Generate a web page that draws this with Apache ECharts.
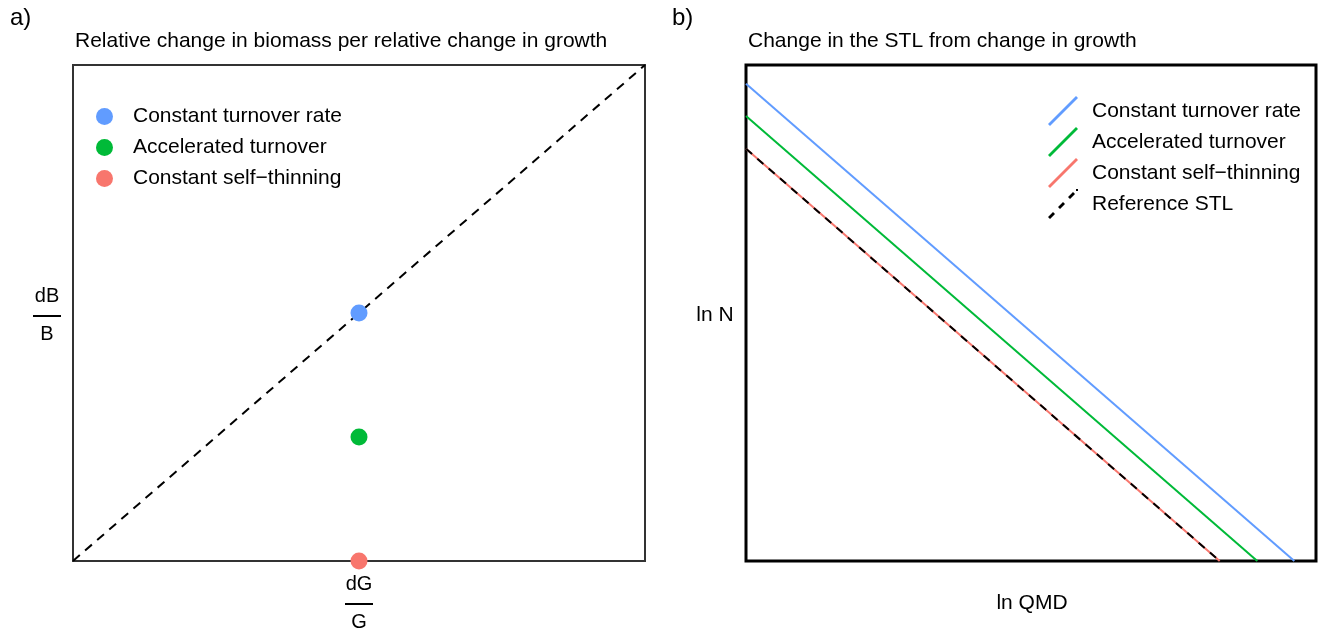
<!DOCTYPE html>
<html>
<head>
<meta charset="utf-8">
<script src="https://cdn.jsdelivr.net/npm/echarts@6/dist/echarts.min.js"></script>
<style>
  html, body { margin: 0; padding: 0; background: #fff; }
  #chart { width: 1319px; height: 628px; }
</style>
</head>
<body>
<div id="chart"></div>
<script>
// Panel a: relative change in biomass (dB/B) per relative change in growth (dG/G)
const scenarioNames = ['Constant turnover rate', 'Accelerated turnover', 'Constant self\u2212thinning'];
const scenarioColors = ['#619CFF', '#00BA38', '#F8766D'];
const growthChange = [1, 1, 1];          // dG/G for each scenario
const biomassChange = [1, 0.5, 0];       // dB/B for each scenario
const oneToOneLine = [[0, 0], [2, 2]];   // dB/B = dG/G reference

// Panel b: self-thinning lines (ln N against ln QMD), intercepts with slope -1
const stlNames = ['Constant turnover rate', 'Accelerated turnover', 'Constant self\u2212thinning', 'Reference STL'];
const stlColors = ['#619CFF', '#00BA38', '#F8766D', '#000000'];
const stlIntercepts = [0.962, 0.897, 0.831, 0.831];
const stlSlope = -1;
const lnQmdStart = [0, 0, 0, 0];

const FONT = 'Liberation Sans, Arial, sans-serif';
const chart = echarts.init(document.getElementById('chart'), null, { renderer: 'canvas' });

// two-point lines running from the left edge down to ln N = 0
const stlSeries = stlIntercepts.map((c, i) => {
  const x0 = lnQmdStart[i];
  const x1 = -c / stlSlope;
  return {
    name: stlNames[i],
    type: 'line',
    xAxisIndex: 1, yAxisIndex: 1,
    data: [[x0, c + stlSlope * x0], [x1, c + stlSlope * x1]],
    showSymbol: false,
    silent: true,
    z: i === 3 ? 5 : 3,
    lineStyle: {
      color: stlColors[i],
      width: 2,
      type: i === 3 ? [8, 7] : 'solid'
    },
    itemStyle: { color: stlColors[i] }
  };
});

const scatterSeries = scenarioNames.map((n, i) => ({
  name: n,
  type: 'scatter',
  xAxisIndex: 0, yAxisIndex: 0,
  data: [[growthChange[i], biomassChange[i]]],
  symbolSize: 17,
  clip: false,
  z: 6,
  itemStyle: { color: scenarioColors[i], opacity: 1 }
}));

const lineIcon = 'path://M0,28L28,0L30,2L2,30Z';
const dashIcon = 'path://M0,28L5,23L7,25L2,30Z M10,18L15,13L17,15L12,20Z M20,8L25,3L27,5L22,10Z M28,0L30,0L30,2L28,2Z';

const hiddenAxis = (idx, min, max) => ({
  gridIndex: idx, type: 'value', min, max,
  axisLine: { show: false }, axisTick: { show: false },
  axisLabel: { show: false }, splitLine: { show: false }
});

function fraction(cx, topY, top, bottom, lineDy, bottomDy) {
  return {
    type: 'group',
    children: [
      { type: 'text', x: cx, y: topY, style: { text: top, font: '20px ' + FONT, fill: '#000', align: 'center', verticalAlign: 'middle' } },
      { type: 'line', shape: { x1: cx - 14, y1: topY + lineDy, x2: cx + 14, y2: topY + lineDy }, style: { stroke: '#000', lineWidth: 2 } },
      { type: 'text', x: cx, y: topY + bottomDy, style: { text: bottom, font: '20px ' + FONT, fill: '#000', align: 'center', verticalAlign: 'middle' } }
    ]
  };
}

chart.setOption({
  animation: false,
  backgroundColor: '#ffffff',
  grid: [
    { left: 73, top: 65, width: 572, height: 496, show: true, borderColor: '#333333', borderWidth: 2, backgroundColor: 'transparent' },
    { left: 746, top: 65, width: 570, height: 496, show: true, borderColor: '#000000', borderWidth: 3, backgroundColor: 'transparent' }
  ],
  xAxis: [hiddenAxis(0, 0, 2), hiddenAxis(1, 0, 1)],
  yAxis: [hiddenAxis(0, 0, 2), hiddenAxis(1, 0, 1)],
  legend: [
    {
      left: 96, top: 106,
      padding: 0,
      orient: 'vertical',
      icon: 'circle',
      itemWidth: 17, itemHeight: 17, itemGap: 10,
      selectedMode: false,
      textStyle: { fontFamily: FONT, fontSize: 21, color: '#000', padding: [0, 0, 0, 15] },
      data: scenarioNames
    },
    {
      left: 1048, top: 96,
      padding: 0,
      orient: 'vertical',
      itemWidth: 30, itemHeight: 30, itemGap: 1,
      selectedMode: false,
      textStyle: { fontFamily: FONT, fontSize: 21, color: '#000', padding: [0, 0, 0, 9] },
      data: stlNames.map((n, i) => ({ name: n, icon: i === 3 ? dashIcon : lineIcon, itemStyle: { color: stlColors[i] } }))
    }
  ],
  graphic: [
    { type: 'text', left: 10, top: 6, style: { text: 'a)', font: '24px ' + FONT, fill: '#000' } },
    { type: 'text', left: 672, top: 6, style: { text: 'b)', font: '24px ' + FONT, fill: '#000' } },
    { type: 'text', x: 75, y: 41, style: { text: 'Relative change in biomass per relative change in growth', font: '21px ' + FONT, fill: '#000', verticalAlign: 'middle' } },
    { type: 'text', x: 748, y: 41, style: { text: 'Change in the STL from change in growth', font: '21px ' + FONT, fill: '#000', verticalAlign: 'middle' } },
    fraction(47, 296, 'dB', 'B', 20, 38),
    fraction(359, 584, 'dG', 'G', 20, 38),
    { type: 'text', x: 715, y: 315, style: { text: 'ln N', font: '21px ' + FONT, fill: '#000', align: 'center', verticalAlign: 'middle' } },
    { type: 'text', x: 1032, y: 603, style: { text: 'ln QMD', font: '21px ' + FONT, fill: '#000', align: 'center', verticalAlign: 'middle' } }
  ],
  series: [
    {
      name: 'dB/B = dG/G',
      type: 'line',
      xAxisIndex: 0, yAxisIndex: 0,
      data: oneToOneLine,
      showSymbol: false,
      silent: true,
      z: 3,
      lineStyle: { color: '#000', width: 2, type: [9, 7] }
    },
    ...scatterSeries,
    ...stlSeries
  ]
});
</script>
</body>
</html>
